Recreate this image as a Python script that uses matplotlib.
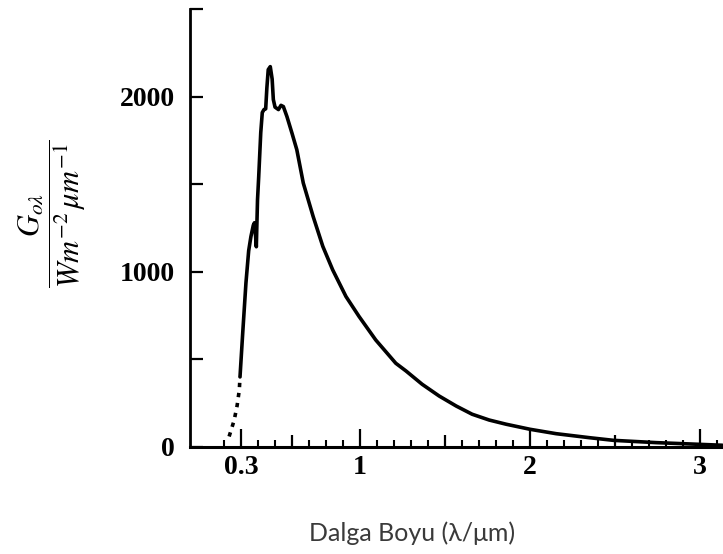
import matplotlib
matplotlib.use("Agg")
import matplotlib.pyplot as plt
import numpy as np

# ---- data ----
wavelength_um = [0.294, 0.31, 0.329, 0.345, 0.358, 0.372, 0.379, 0.386, 0.39, 0.393,
                 0.397, 0.404, 0.416, 0.425, 0.435, 0.445, 0.452, 0.46, 0.472, 0.483,
                 0.49, 0.50, 0.52, 0.535, 0.549, 0.57, 0.60, 0.628, 0.666, 0.724,
                 0.781, 0.839, 0.917, 0.994, 1.092, 1.21, 1.27, 1.365, 1.465, 1.565,
                 1.659, 1.759, 1.859, 2.0, 2.153, 2.35, 2.49, 2.74, 3.0, 3.13]
irradiance = [400, 651, 937, 1120, 1200, 1265, 1280, 1200, 1143, 1260,
              1411, 1543, 1794, 1909, 1926, 1930, 2050, 2154, 2171, 2100,
              1983, 1940, 1926, 1950, 1943, 1886, 1790, 1697, 1507, 1316,
              1145, 1011, 859, 745, 611, 478, 434, 358, 291, 234,
              187, 154, 130, 101, 76, 53, 38, 25, 15, 10]

# dashed (extrapolated) UV part
uv_wavelength_um = [0.23, 0.242, 0.26, 0.277, 0.29, 0.294]
uv_irradiance = [60, 97, 154, 236, 326, 400]

x_major_ticks = [0.3, 1, 2, 3]
x_major_labels = ["0.3", "1", "2", "3"]
x_mid_ticks = [0.6, 1.5, 2.5]
x_minor_ticks = [round(v, 1) for v in np.arange(0.2, 3.15, 0.1)]
y_ticks = [0, 500, 1000, 1500, 2000, 2500]
y_labels = ["0", "", "1000", "", "2000", ""]

xlabel = "Dalga Boyu (λ/μm)"
ylabel = r"$\dfrac{G_{o\lambda}}{Wm^{-2}\,\mu m^{-1}}$"

# ---- figure ----
plt.rcParams["mathtext.fontset"] = "stix"
fig = plt.figure(figsize=(7.23, 5.54), dpi=100)
ax = fig.add_axes([190 / 723, 107 / 554, 533 / 723, 438 / 554])

ax.plot(wavelength_um, irradiance, color="black", lw=2.6, solid_capstyle="round",
        solid_joinstyle="round")
ax.plot(uv_wavelength_um, uv_irradiance, color="black", lw=2.6,
        linestyle=(0, (1.2, 1.6)))

ax.set_xlim(0.0, 3.134)
ax.set_ylim(0, 2500)

for s in ["top", "right"]:
    ax.spines[s].set_visible(False)
ax.spines["left"].set_linewidth(2.0)
ax.spines["bottom"].set_linewidth(2.2)

tick_font = dict(family="Liberation Serif", weight="bold", size=20)

ax.set_yticks(y_ticks)
ax.set_yticklabels(y_labels, fontdict=tick_font)
ax.tick_params(axis="y", direction="in", length=9, width=1.6, pad=11)

ax.set_xticks(x_major_ticks)
ax.set_xticklabels(x_major_labels, fontdict=tick_font)
minor = [v for v in x_minor_ticks if v not in x_major_ticks and v not in x_mid_ticks]
ax.set_xticks(minor, minor=True)
ax.tick_params(axis="x", which="major", direction="in", length=13, width=1.6, pad=6)
ax.tick_params(axis="x", which="minor", direction="in", length=5, width=1.5)

sec = ax.secondary_xaxis(0)
sec.set_xticks(x_mid_ticks)
sec.set_xticklabels([""] * len(x_mid_ticks))
sec.tick_params(axis="x", direction="in", length=9, width=1.6)
sec.spines["bottom"].set_visible(False)

fig.text(52 / 723, 1 - 214 / 554, ylabel, rotation=90, ha="center", va="center",
         fontsize=22)
fig.text(412 / 723, 1 - 533 / 554, xlabel, ha="center", va="center",
         fontsize=18, family=["Lato", "DejaVu Sans"], color="#3a3a3a")

fig.savefig("out.png", dpi=100)
